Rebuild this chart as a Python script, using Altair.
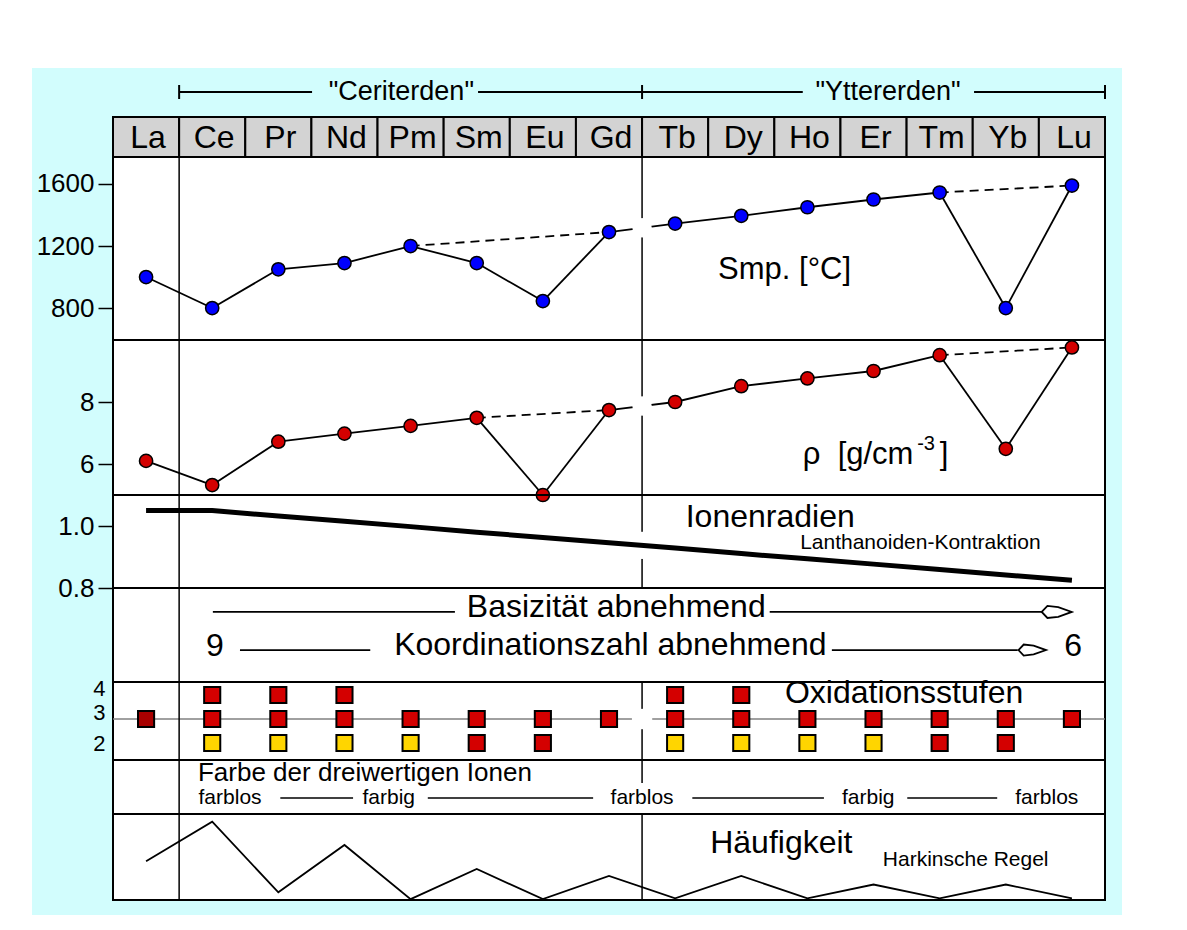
import altair as alt
import pandas as pd

FONT = "Liberation Sans"

# ---------------- data ----------------
elements = ["La", "Ce", "Pr", "Nd", "Pm", "Sm", "Eu", "Gd",
            "Tb", "Dy", "Ho", "Er", "Tm", "Yb", "Lu"]
melting = [1000, 800, 1050, 1090, 1200, 1090, 845, 1290,
           1345, 1395, 1450, 1500, 1545, 800, 1590]
density = [6.10, 5.32, 6.72, 6.98, 7.23, 7.49, 5.00, 7.74,
           8.00, 8.51, 8.76, 9.00, 9.51, 6.49, 9.76]
radius = [1.050, 1.050, 1.032, 1.015, 0.998, 0.980, 0.963, 0.946,
          0.929, 0.911, 0.894, 0.877, 0.860, 0.842, 0.825]
abundance = [45, 91, 9, 64, 1, 36, 1, 28, 2, 28, 2, 18, 2, 18, 2]

ox_plus4 = ["Ce", "Pr", "Nd", "Tb", "Dy"]
ox_plus2_yellow = ["Ce", "Pr", "Nd", "Pm", "Tb", "Dy", "Ho", "Er"]
ox_plus2_red = ["Sm", "Eu", "Tm", "Yb"]

melting_trend = [("Pm", "Gd"), ("Tm", "Lu")]
density_trend = [("Sm", "Gd"), ("Tm", "Lu")]

group_labels = ['"Ceriterden"', '"Yttererden"']
color_words = ["farblos", "farbig", "farblos", "farbig", "farblos"]

idx = {e: i for i, e in enumerate(elements)}
sep_x = [idx["Ce"] - 0.5, idx["Tb"] - 0.5]
N = len(elements)

W = 992
XS = alt.Scale(domain=[-0.5, N - 0.5], nice=False, zero=False)


def X(f):
    return alt.X(f, type="quantitative", scale=XS, axis=None)


def Y(f, dom, axis=None):
    return alt.Y(f, type="quantitative",
                 scale=alt.Scale(domain=dom, nice=False, zero=False), axis=axis)


def yaxis(values, fmt, ticks=True, pad=4, offset=None, size=26):
    kw = dict(values=values, title=None, domain=False, grid=False, ticks=ticks,
              labelFont=FONT, labelFontSize=size, labelColor="black",
              labelPadding=pad, labelOverlap=False, format=fmt)
    if ticks:
        kw.update(tickSize=15, tickWidth=1.5, tickColor="black")
    if offset is not None:
        kw["labelOffset"] = offset
    return alt.Axis(**kw)


VIEW = alt.ViewBackground(stroke="black", strokeWidth=2)


def text_layer(rows, dom, size, align="left", axis=None, dx=0):
    df = pd.DataFrame(rows, columns=["x", "y", "t"])
    return alt.Chart(df).mark_text(font=FONT, fontSize=size, align=align,
                                   baseline="middle", color="black", dx=dx).encode(
        x=X("x"), y=Y("y", dom, axis), text="t:N")


def seg_rule(df, dom, axis, dash=None, width=1.8):
    kw = dict(color="black", strokeWidth=width)
    if dash:
        kw["strokeDash"] = dash
    return alt.Chart(df).mark_rule(**kw).encode(
        x=X("x"), x2="x2", y=Y("y", dom, axis), y2="y2")


def consecutive(vals):
    return pd.DataFrame({"x": list(range(N - 1)), "x2": list(range(1, N)),
                         "y": vals[:-1], "y2": vals[1:]})


def trend(vals, pairs):
    return pd.DataFrame({"x": [idx[a] for a, b in pairs], "x2": [idx[b] for a, b in pairs],
                         "y": [vals[idx[a]] for a, b in pairs],
                         "y2": [vals[idx[b]] for a, b in pairs]})


def crossing(vals):
    g, t = idx["Gd"], idx["Tb"]
    return pd.DataFrame({"x": [sep_x[1]], "y": [(vals[g] + vals[t]) / 2]})


sep_df = pd.DataFrame({"x": sep_x})
one = pd.DataFrame({"a": [0]})

# ---------------- panel 0 : background + group brackets ----------------
d0 = [0, 1]
bracket = pd.DataFrame({"x": [0.5, 5.02, 7.5, 12.52], "x2": [2.51, 7.5, 9.93, 14.5],
                        "y": [0.51] * 4, "y2": [0.51] * 4})
bticks = pd.DataFrame({"x": [0.5, 7.5, 14.5], "y": [0.367] * 3, "y2": [0.653] * 3})
p0 = alt.layer(
    alt.Chart(one).mark_rect(color="#d2fdfd").encode(
        x=alt.value(-81), x2=alt.value(1009), y=alt.value(0), y2=alt.value(847)),
    alt.Chart(one).mark_rect(color="white").encode(
        x=alt.value(0), x2=alt.value(W), y=alt.value(49), y2=alt.value(832)),
    seg_rule(bracket, d0, None, width=2),
    alt.Chart(bticks).mark_rule(color="black", strokeWidth=2).encode(
        x=X("x"), y=Y("y", d0), y2="y2"),
    text_layer([(3.86, 0.51, group_labels[0]), (11.22, 0.51, group_labels[1])],
               d0, 27, align="center"),
).properties(width=W, height=49,
             view=alt.ViewBackground(stroke="transparent", strokeWidth=0))

# ---------------- header row ----------------
head = pd.DataFrame({"x": [i - 0.5 for i in range(N)], "x2": [i + 0.5 for i in range(N)],
                     "y": [0] * N, "y2": [1] * N, "c": list(range(N)), "el": elements})
ph = alt.layer(
    alt.Chart(head).mark_rect(color="#d3d3d3", stroke="black", strokeWidth=2).encode(
        x=X("x"), x2="x2", y=Y("y", d0), y2="y2"),
    alt.Chart(head).mark_text(font=FONT, fontSize=32, color="black", baseline="middle",
                              dx=2, dy=1).encode(
        x=X("c"), y=alt.value(20), text="el:N"),
).properties(width=W, height=40, view=VIEW)

# ---------------- panel 1 : melting point ----------------
d1 = [594, 1774]
a1 = yaxis([800, 1200, 1600], "d")
pts1 = pd.DataFrame({"x": list(range(N)), "y": melting})
p1 = alt.layer(
    alt.Chart(sep_df).mark_rule(color="black", strokeWidth=1.5).encode(x=X("x")),
    seg_rule(consecutive(melting), d1, a1),
    seg_rule(trend(melting, melting_trend), d1, a1, dash=[9, 6]),
    alt.Chart(crossing(melting)).mark_circle(color="white", opacity=1, size=380).encode(
        x=X("x"), y=Y("y", d1, a1)),
    alt.Chart(pts1).mark_circle(color="#0000ff", opacity=1, size=175, stroke="black",
                                strokeWidth=1.5).encode(x=X("x"), y=Y("y", d1, a1)),
    text_layer([(8.65, 1045, "Smp. [°C]")], d1, 31, axis=a1),
).properties(width=W, height=183, view=VIEW)

# ---------------- panel 2 : density ----------------
d2 = [5, 10]
a2 = yaxis([6, 8], "d")
pts2 = pd.DataFrame({"x": list(range(N)), "y": density})
p2 = alt.layer(
    alt.Chart(sep_df).mark_rule(color="black", strokeWidth=1.5).encode(x=X("x")),
    seg_rule(consecutive(density), d2, a2),
    seg_rule(trend(density, density_trend), d2, a2, dash=[9, 6]),
    alt.Chart(crossing(density)).mark_circle(color="white", opacity=1, size=380).encode(
        x=X("x"), y=Y("y", d2, a2)),
    alt.Chart(pts2).mark_circle(color="#d40000", opacity=1, size=175, stroke="black",
                                strokeWidth=1.5).encode(x=X("x"), y=Y("y", d2, a2)),
    text_layer([(9.93, 6.29, "ρ\u00a0\u00a0[g/cm"), (12.0, 6.29, "]")], d2, 31, axis=a2),
    text_layer([(11.66, 6.66, "-3")], d2, 20, axis=a2),
).properties(width=W, height=155, view=VIEW)

# ---------------- panel 3 : ionic radii ----------------
d3 = [0.8, 1.1]
a3 = yaxis([0.8, 1.0], ".1f")
pts3 = pd.DataFrame({"x": list(range(N)), "y": radius})
p3 = alt.layer(
    alt.Chart(sep_df).mark_rule(color="black", strokeWidth=1.5).encode(x=X("x")),
    alt.Chart(crossing(radius)).mark_circle(color="white", opacity=1, size=750).encode(
        x=X("x"), y=Y("y", d3, a3)),
    alt.Chart(pts3).mark_line(color="black", strokeWidth=5).encode(
        x=X("x"), y=Y("y", d3, a3)),
    text_layer([(8.16, 1.029, "Ionenradien")], d3, 32, axis=a3),
    text_layer([(9.89, 0.945, "Lanthanoiden-Kontraktion")], d3, 21, axis=a3),
).properties(width=W, height=93, view=VIEW)

# ---------------- panel 4 : trends ----------------
d4 = [0, 1]
lines4 = pd.DataFrame({"x": [1.01, 9.43, 1.42, 10.37], "x2": [4.67, 13.55, 3.39, 13.18],
                       "y": [0.745, 0.745, 0.34, 0.34], "y2": [0.745, 0.745, 0.34, 0.34]})
ARROW = "M-1,0 L-0.62,-0.4 L0.1,-0.32 L1,0 L0.1,0.32 L-0.62,0.4 Z"
arr1 = pd.DataFrame({"x": [13.77], "y": [0.745]})
arr2 = pd.DataFrame({"x": [13.40], "y": [0.34]})
p4 = alt.layer(
    alt.Chart(pd.DataFrame({"x": sep_x[:1]})).mark_rule(color="black", strokeWidth=1.5).encode(x=X("x")),
    seg_rule(lines4, d4, None),
    alt.Chart(arr1).mark_point(shape=ARROW, filled=True, fill="white", stroke="black",
                               strokeWidth=1.8, size=900, opacity=1).encode(x=X("x"), y=Y("y", d4)),
    alt.Chart(arr2).mark_point(shape=ARROW, filled=True, fill="white", stroke="black",
                               strokeWidth=1.8, size=760, opacity=1).encode(x=X("x"), y=Y("y", d4)),
    text_layer([(7.11, 0.80, "Basizität abnehmend"), (7.02, 0.394, "Koordinationszahl abnehmend"),
                (1.04, 0.38, "9"), (14.02, 0.38, "6")], d4, 32, align="center"),
).properties(width=W, height=94, view=VIEW)

# ---------------- panel 5 : oxidation states ----------------
d5 = [1.29, 4.54]
a5 = yaxis([2, 3, 4], "d", ticks=False, pad=8, size=22,
           offset={"condition": {"test": "datum.value == 2", "value": 1}, "value": -6})
ox_rows = []
for i, el in enumerate(elements):
    ox_rows.append((i, 3, "base" if el == "La" else "red"))
    if el in ox_plus4:
        ox_rows.append((i, 4, "red"))
    if el in ox_plus2_yellow:
        ox_rows.append((i, 2, "yellow"))
    if el in ox_plus2_red:
        ox_rows.append((i, 2, "red"))
ox = pd.DataFrame(ox_rows, columns=["x", "y", "k"])
p5 = alt.layer(
    alt.Chart(pd.DataFrame({"y": [3]})).mark_rule(color="#808080", strokeWidth=1.5).encode(
        y=Y("y", d5, a5)),
    alt.Chart(sep_df).mark_rule(color="black", strokeWidth=1.5).encode(x=X("x")),
    alt.Chart(pd.DataFrame({"x": [sep_x[1]], "y": [3]})).mark_circle(
        color="white", opacity=1, size=420).encode(x=X("x"), y=Y("y", d5, a5)),
    alt.Chart(ox).mark_square(size=260, opacity=1, stroke="black", strokeWidth=2).encode(
        x=X("x"), y=Y("y", d5, a5),
        color=alt.Color("k:N", scale=alt.Scale(domain=["base", "red", "yellow"],
                                               range=["#a80000", "#d40000", "#ffd500"]),
                        legend=None)),
    text_layer([(9.66, 4.08, "Oxidationsstufen")], d5, 32, axis=a5),
).properties(width=W, height=78, view=VIEW)

# ---------------- panel 6 : colour of ions ----------------
d6 = [0, 1]
lines6 = pd.DataFrame({"x": [2.03, 4.26, 8.26, 11.51], "x2": [3.13, 6.76, 10.25, 12.87],
                       "y": [0.296] * 4, "y2": [0.296] * 4})
word_x = [1.27, 3.67, 7.50, 10.92, 13.62]
p6 = alt.layer(
    alt.Chart(pd.DataFrame({"x": sep_x[:1]})).mark_rule(color="black", strokeWidth=1.5).encode(x=X("x")),
    alt.Chart(pd.DataFrame({"x": [sep_x[1]], "y": [1.0], "y2": [0.574]})).mark_rule(
        color="black", strokeWidth=1.5).encode(x=X("x"), y=Y("y", d6), y2="y2"),
    seg_rule(lines6, d6, None, width=1.5),
    text_layer([(0.785, 0.76, "Farbe der dreiwertigen Ionen")], d6, 26),
    text_layer([(x, 0.296, w) for x, w in zip(word_x, color_words)], d6, 21, align="center"),
).properties(width=W, height=54, view=VIEW)

# ---------------- panel 7 : abundance ----------------
d7 = [0, 100]
pts7 = pd.DataFrame({"x": list(range(N)), "y": abundance})
p7 = alt.layer(
    alt.Chart(sep_df).mark_rule(color="black", strokeWidth=1.5).encode(x=X("x")),
    alt.Chart(pts7).mark_line(color="black", strokeWidth=1.8).encode(
        x=X("x"), y=Y("y", d7)),
    text_layer([(8.53, 66, "Häufigkeit")], d7, 32),
    text_layer([(11.14, 46.5, "Harkinsche Regel")], d7, 21),
).properties(width=W, height=86, view=VIEW)

chart = alt.vconcat(p0, ph, p1, p2, p3, p4, p5, p6, p7, spacing=0, bounds="flush").properties(
    padding={"left": 24, "top": 60, "right": 4, "bottom": 4},
    background="white",
)

chart.save("out.html", embed_options={"renderer": "svg", "actions": False})
